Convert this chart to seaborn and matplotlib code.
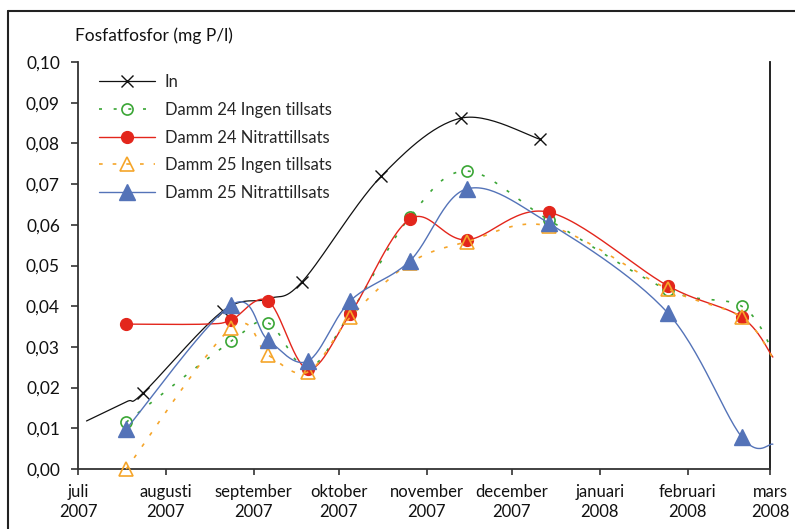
import numpy as np
import pandas as pd
import matplotlib
matplotlib.use("Agg")
import matplotlib.pyplot as plt
import matplotlib.dates as mdates
from matplotlib.lines import Line2D
import seaborn as sns

# ---------------- data ----------------
in_dates = ["2007-07-04", "2007-07-18", "2007-07-24", "2007-08-21", "2007-09-06",
            "2007-09-18", "2007-10-16", "2007-11-13", "2007-12-11"]
in_vals = [0.0118, 0.0165, 0.0187, 0.0388, 0.0418, 0.046, 0.072, 0.0862, 0.081]
in_marked = [2, 3, 5, 6, 7, 8]

pond_dates = ["2007-07-18", "2007-08-24", "2007-09-06", "2007-09-20", "2007-10-05",
              "2007-10-26", "2007-11-15", "2007-12-14", "2008-01-25", "2008-02-20",
              "2008-03-02"]
pond_marked = list(range(10))

d24_ingen = [0.0115, 0.0314, 0.0359, 0.0248, 0.0383, 0.0619, 0.0732, 0.0612, 0.044, 0.040, 0.029]
d24_nitrat = [0.0356, 0.0366, 0.0413, 0.0246, 0.0381, 0.0614, 0.0563, 0.0631, 0.045, 0.0373, 0.0275]
d25_ingen = [0.0, 0.0346, 0.028, 0.0238, 0.0373, 0.0506, 0.0558, 0.0597, 0.0442, 0.0373, 0.0273]
d25_nitrat = [0.0098, 0.0403, 0.0317, 0.0265, 0.0413, 0.0511, 0.0688, 0.0604, 0.0383, 0.0079, 0.0061]

# red series has an extra unmarked point on its flat start
d24_nitrat_dates = pond_dates[:1] + ["2007-08-15"] + pond_dates[1:]
d24_nitrat_line = d24_nitrat[:1] + [0.0356] + d24_nitrat[1:]
d24_nitrat_marked = [0] + [i + 2 for i in range(9)]

month_starts = ["2007-07-01", "2007-08-01", "2007-09-01", "2007-10-01", "2007-11-01",
                "2007-12-01", "2008-01-01", "2008-02-01", "2008-03-01"]
month_labels = ["juli\n2007", "augusti\n2007", "september\n2007", "oktober\n2007",
                "november\n2007", "december\n2007", "januari\n2008", "februari\n2008",
                "mars\n2008"]
y_ticks = [0.00, 0.01, 0.02, 0.03, 0.04, 0.05, 0.06, 0.07, 0.08, 0.09, 0.10]
y_labels = ["0,00", "0,01", "0,02", "0,03", "0,04", "0,05", "0,06", "0,07", "0,08", "0,09", "0,10"]

# ---------------- style ----------------
sns.set_style("ticks")
plt.rcParams["font.family"] = ["Lato", "DejaVu Sans"]
plt.rcParams["font.size"] = 12

C_IN = "#111111"
C_G = "#3aa635"
C_R = "#e3261c"
C_O = "#f5a52a"
C_B = "#5473b8"


def smooth(xs, ys, n=30):
    """Excel-like smoothed line (uniform Catmull-Rom / Bezier)."""
    xs = np.asarray(xs, float)
    ys = np.asarray(ys, float)
    P = np.column_stack([xs, ys])
    P = np.vstack([P[0], P, P[-1]])
    out = []
    t = np.linspace(0, 1, n)
    for i in range(1, len(P) - 2):
        p0, p1, p2, p3 = P[i - 1], P[i], P[i + 1], P[i + 2]
        c1 = p1 + (p2 - p0) / 6.0
        c2 = p2 - (p3 - p1) / 6.0
        seg = ((1 - t) ** 3)[:, None] * p1 + (3 * (1 - t) ** 2 * t)[:, None] * c1 \
            + (3 * (1 - t) * t ** 2)[:, None] * c2 + (t ** 3)[:, None] * p2
        out.append(seg if i == 1 else seg[1:])
    out = np.vstack(out)
    return out[:, 0], out[:, 1]


fig = plt.figure(figsize=(7.95, 5.29), dpi=100)
ax = fig.add_axes([78 / 795, 1 - 469 / 529, (770 - 78) / 795, (469 - 62) / 529])

series = [
    ("In", in_dates, in_vals, in_marked,
     dict(color=C_IN, ls="-", lw=0.9),
     dict(marker="x", ms=9, mec=C_IN, mfc="none", mew=1.0)),
    ("Damm 24 Ingen tillsats", pond_dates, d24_ingen, pond_marked,
     dict(color=C_G, ls=(0, (1.8, 7)), lw=1.2),
     dict(marker="o", ms=8, mec=C_G, mfc="none", mew=1.2)),
    ("Damm 24 Nitrattillsats", d24_nitrat_dates, d24_nitrat_line, d24_nitrat_marked,
     dict(color=C_R, ls="-", lw=1.0),
     dict(marker="o", ms=8.5, mec=C_R, mfc=C_R, mew=1.0)),
    ("Damm 25 Ingen tillsats", pond_dates, d25_ingen, pond_marked,
     dict(color=C_O, ls=(0, (2.2, 6)), lw=1.2),
     dict(marker="^", ms=10, mec=C_O, mfc="none", mew=1.2)),
    ("Damm 25 Nitrattillsats", pond_dates, d25_nitrat, pond_marked,
     dict(color=C_B, ls="-", lw=1.0),
     dict(marker="^", ms=11, mec=C_B, mfc=C_B, mew=1.0)),
]

handles = []
for z, (name, dts, vals, marked, lstyle, mstyle) in enumerate(series):
    xn = mdates.date2num(pd.to_datetime(dts))
    sx, sy = smooth(xn, vals)
    df = pd.DataFrame({"x": sx, "y": sy})
    sns.lineplot(data=df, x="x", y="y", ax=ax, sort=False, estimator=None,
                 color=lstyle["color"], linestyle=lstyle["ls"], linewidth=lstyle["lw"],
                 zorder=3 + z * 2, clip_on=False, legend=False)
    mx = [xn[i] for i in marked]
    my = [vals[i] for i in marked]
    ax.plot(mx, my, ls="none", zorder=4 + z * 2, clip_on=False, **mstyle)
    handles.append(Line2D([], [], color=lstyle["color"], linestyle=lstyle["ls"],
                          linewidth=lstyle["lw"], **mstyle))

ax.set_xlim(mdates.date2num(pd.Timestamp("2007-07-01")), mdates.date2num(pd.Timestamp("2008-03-01")))
ax.set_ylim(0, 0.10)
ax.set_xticks(mdates.date2num(pd.to_datetime(month_starts)))
ax.set_xticklabels(month_labels, fontsize=12, linespacing=1.3)
ax.set_yticks(y_ticks)
ax.set_yticklabels(y_labels, fontsize=12.5)
ax.set_xlabel("")
ax.set_ylabel("")

for s in ["left", "bottom", "right"]:
    ax.spines[s].set_color("#333333")
    ax.spines[s].set_linewidth(1.3)
ax.spines["right"].set_color("#111111")
ax.spines["top"].set_visible(False)
ax.tick_params(axis="y", direction="out", length=5, width=1.2, color="#333333", pad=8, labelcolor="#111111")
ax.tick_params(axis="x", direction="out", length=4, width=1.2, color="#333333", pad=7, labelcolor="#111111")

leg = ax.legend(handles=handles, labels=[s[0] for s in series], loc="upper left",
                bbox_to_anchor=(0.030, 0.970), frameon=False, borderpad=0, borderaxespad=0,
                handlelength=3.4, handletextpad=0.55, labelspacing=0.70, fontsize=12)

fig.text(75 / 795, 1 - 36 / 529, "Fosfatfosfor (mg P/l)", fontsize=12.5, va="center", ha="left",
         color="#111111")

# outer frame (top and left visible, continues beyond the image)
fig.add_artist(Line2D([8 / 795, 8 / 795], [1 - 11 / 529, -0.1], transform=fig.transFigure,
                      color="#222222", lw=1.5))
fig.add_artist(Line2D([8 / 795, 1.1], [1 - 11 / 529, 1 - 11 / 529], transform=fig.transFigure,
                      color="#222222", lw=1.5))

fig.savefig("out.png", dpi=100)
